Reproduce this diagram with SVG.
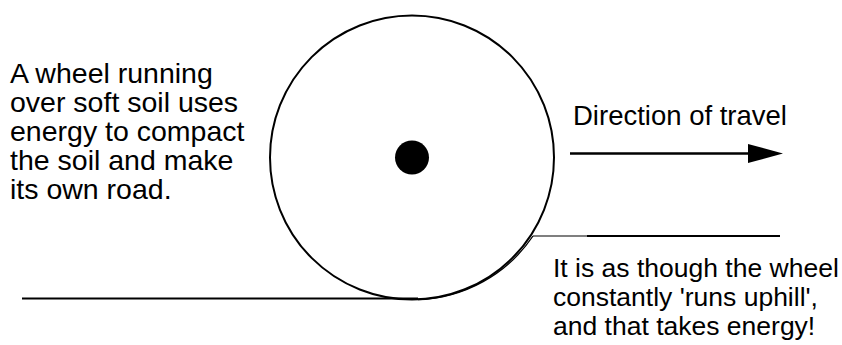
<svg xmlns="http://www.w3.org/2000/svg" width="842" height="345" viewBox="0 0 842 345">
<style>
.t{font-family:"Liberation Sans",Arial,sans-serif;font-size:28.5px;fill:#000}
.r{font-size:26.5px}
.ln{stroke:#000;fill:none}
</style>
<rect width="842" height="345" fill="#fff"/>
<g id="wheel">
<circle cx="412" cy="157.5" r="142" class="ln" stroke-width="2" fill="#fff"/>
<circle cx="412" cy="157.5" r="17" fill="#000"/>
</g>
<g id="connectors">
<line x1="22" y1="298.5" x2="418" y2="298.5" class="ln" stroke-width="2"/>
<path d="M418 299.5 A144 144 0 0 0 533 236" class="ln" stroke-width="1.3"/>
<line x1="533" y1="236" x2="588" y2="236" class="ln" stroke-width="1.2"/>
<line x1="587" y1="236" x2="780" y2="236" class="ln" stroke-width="2"/>
<line x1="570" y1="153.5" x2="750" y2="153.5" class="ln" stroke-width="2.5"/>
<polygon points="748,144 783,153.5 748,163" fill="#000"/>
</g>
<g id="label-left">
<text class="t" x="10" y="83">A wheel running</text>
<text class="t" x="10" y="112">over soft soil uses</text>
<text class="t" x="10" y="141">energy to compact</text>
<text class="t" x="10" y="170">the soil and make</text>
<text class="t" x="10" y="199">its own road.</text>
</g>
<g id="label-direction">
<text class="t" x="573" y="125" style="font-size:27.5px">Direction of travel</text>
</g>
<g id="label-right">
<text class="t r" x="553" y="277">It is as though the wheel</text>
<text class="t r" x="553" y="306">constantly 'runs uphill',</text>
<text class="t r" x="553" y="335">and that takes energy!</text>
</g>
</svg>
